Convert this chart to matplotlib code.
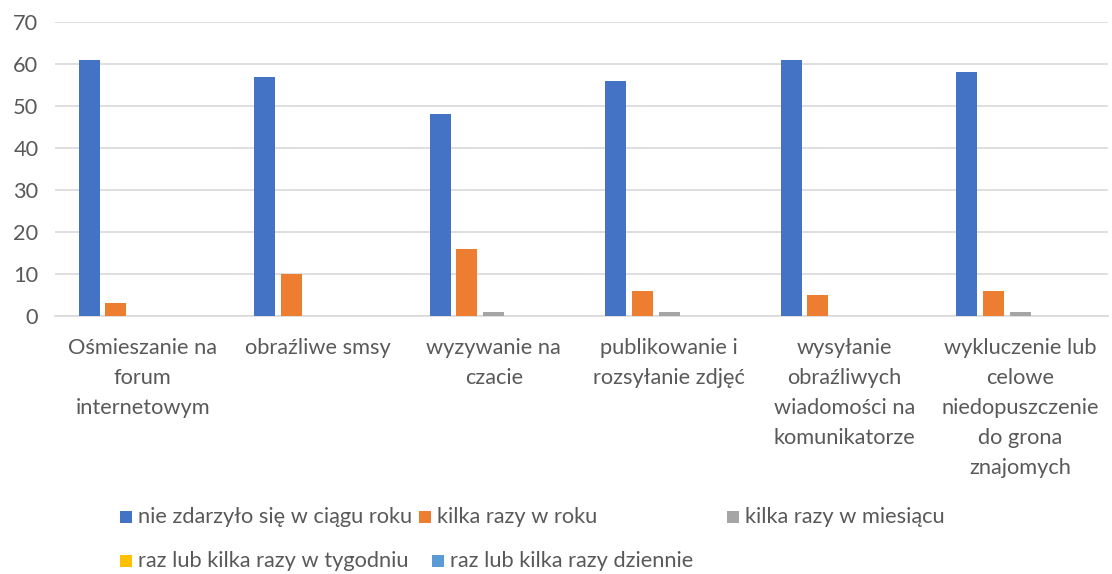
import numpy as np
import matplotlib.pyplot as plt
from matplotlib.patches import Rectangle

plt.rcParams['font.family'] = ['Lato', 'DejaVu Sans']

categories = [
    "Ośmieszanie na\nforum\ninternetowym",
    "obraźliwe smsy",
    "wyzywanie na\nczacie",
    "publikowanie i\nrozsyłanie zdjęć",
    "wysyłanie\nobraźliwych\nwiadomości na\nkomunikatorze",
    "wykluczenie lub\ncelowe\nniedopuszczenie\ndo grona\nznajomych",
]
series_names = [
    "nie zdarzyło się w ciągu roku",
    "kilka razy w roku",
    "kilka razy w miesiącu",
    "raz lub kilka razy w tygodniu",
    "raz lub kilka razy dziennie",
]
never = [61, 57, 48, 56, 61, 58]
few_year = [3, 10, 16, 6, 5, 6]
few_month = [0, 0, 1, 1, 0, 1]
weekly = [0, 0, 0, 0, 0, 0]
daily = [0, 0, 0, 0, 0, 0]
values = [never, few_year, few_month, weekly, daily]
colors = ['#4472C4', '#ED7D31', '#A5A5A5', '#FFC000', '#5B9BD5']
text_color = '#595959'
fs = 15.7

fig = plt.figure(figsize=(11.12, 5.74), dpi=100)
ax = fig.add_axes([55 / 1112, 1 - 316 / 574, 1053 / 1112, 294 / 574])

x = np.arange(len(categories))
step = 0.153
width = 0.12
for i, (vals, c) in enumerate(zip(values, colors)):
    ax.bar(x + (i - 2) * step, vals, width, color=c, linewidth=0, zorder=3)

ax.set_ylim(0, 70)
ax.set_xlim(-0.5, len(categories) - 0.5)
ax.set_yticks(range(0, 71, 10))
ax.yaxis.grid(True, color='#D9D9D9', linewidth=1.2, zorder=0)
for s in ['top', 'right', 'left']:
    ax.spines[s].set_visible(False)
ax.spines['bottom'].set_color('#D9D9D9')
ax.spines['bottom'].set_linewidth(1.2)
ax.tick_params(axis='both', length=0, labelsize=fs, colors=text_color)
ax.tick_params(axis='y', pad=12)
ax.tick_params(axis='x', pad=16)
ax.set_xticks(x)
ax.set_xticklabels(categories, linespacing=1.62, va='top')

# legend drawn by hand to follow the original layout
legend_pos = [(120, 517), (419, 517), (727, 517), (120, 561), (432, 561)]
for (px, py), name, c in zip(legend_pos, series_names, colors):
    fig.patches.append(Rectangle((px / 1112, 1 - (py + 6) / 574), 12 / 1112, 12 / 574,
                                 transform=fig.transFigure, facecolor=c, edgecolor='none'))
    fig.text((px + 18) / 1112, 1 - py / 574, name, fontsize=fs, color=text_color,
             va='center', ha='left')

fig.savefig('out.png', dpi=100)
